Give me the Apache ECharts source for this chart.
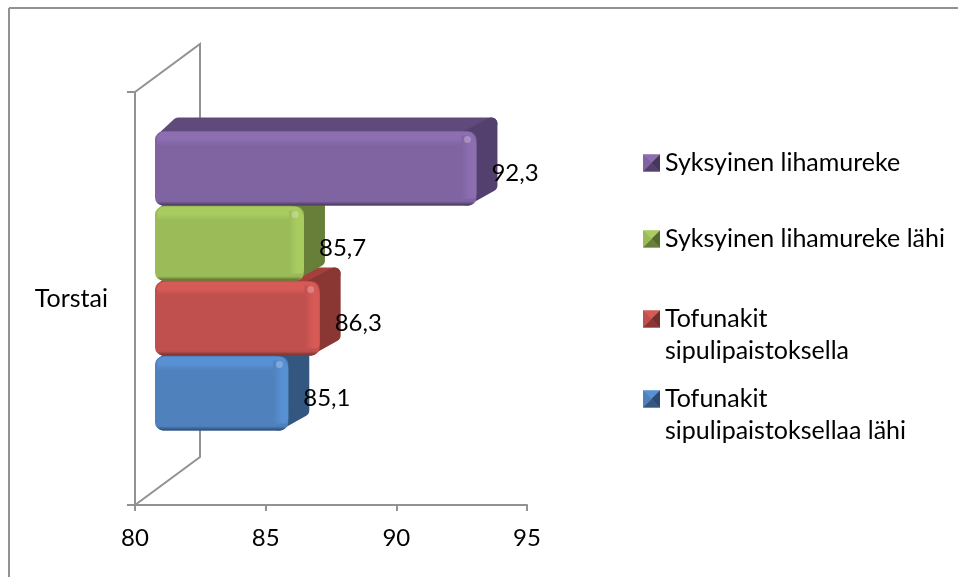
<!DOCTYPE html>
<html>
<head>
<meta charset="utf-8">
<title>Torstai</title>
<script src="https://cdn.jsdelivr.net/npm/echarts@6/dist/echarts.min.js"></script>
<style>
	html, body { margin: 0; padding: 0; background: #fff; }
	#chart { width: 958px; height: 577px; }
</style>
</head>
<body>
<div id="chart"></div>
<script>
// bottom bar first, same order as the excel sheet
const categories = ["Torstai"];
const seriesNames = [
	"Tofunakit sipulipaistoksellaa lähi",
	"Tofunakit sipulipaistoksella",
	"Syksyinen lihamureke lähi",
	"Syksyinen lihamureke",
];
const blueValues = [85.1];
const redValues = [86.3];
const greenValues = [85.7];
const purpleValues = [92.3];
const seriesValues = [blueValues, redValues, greenValues, purpleValues];

const FONT = "Lato";
const GRAY = "#929292";
const NUM_SIZE = 24;
const TEXT_SIZE = 25;

// front, top, side, highlight, shadow
const palette = [
	["#4F81BD", "#41699B", "#34577F", "#5890D4", "#2C4A70"],
	["#C0504D", "#A43F3D", "#8A3633", "#D65A56", "#72302D"],
	["#9BBB59", "#7E9A48", "#677F38", "#A9CC60", "#56692E"],
	["#8064A2", "#604A7B", "#54406F", "#8C6EB1", "#463659"],
];

// front plane of the bars sits a bit inside the 3d box
const wallDx = 65, wallDy = -48;
const frontDx = 20, frontDy = -17;
const depthDx = 21, depthDy = -14;

function renderWalls(params, api) {
	const a = api.coord([80, 0]);
	const h = api.size([0, 1])[1];
	const x = a[0], top = a[1] - h / 2, bot = a[1] + h / 2;
	return {
		type: "polyline",
		shape: { points: [[x, top], [x + wallDx, top + wallDy], [x + wallDx, bot + wallDy], [x, bot]] },
		style: { stroke: GRAY, lineWidth: 2, fill: null },
		silent: true,
	};
}

function renderBar(params, api) {
	const i = params.seriesIndex - 1;
	const base = api.coord([80, 0]);
	const end = api.coord([api.value(0), 0]);
	const band = api.size([0, 1])[1];
	const barH = band * 0.1815;
	const colors = palette[i];
	const x0 = base[0] + frontDx;
	const x1 = end[0] + frontDx;
	const y0 = base[1] + frontDy + barH * (1 - i);
	const y1 = y0 + barH - 1;
	const w = x1 - x0, hh = y1 - y0;
	const ins = 6;
	const face = (pts, fill) => ({
		type: "polygon",
		shape: { points: pts },
		style: { fill, stroke: fill, lineWidth: ins * 2, lineJoin: "round" },
	});
	return {
		type: "group",
		children: [
			// top
			face([
				[x0 + ins + 2, y0 + ins],
				[x0 + depthDx + ins - 4, y0 + depthDy + ins],
				[x1 + depthDx - ins, y0 + depthDy + ins],
				[x1 - ins, y0 + ins + 4],
			], colors[1]),
			// side
			face([
				[x1 - ins - 6, y0 + ins],
				[x1 + depthDx - ins, y0 + depthDy + ins],
				[x1 + depthDx - ins, y1 + depthDy - ins],
				[x1 - ins - 4, y1 - ins],
			], colors[2]),
			// front
			{
				type: "rect",
				shape: { x: x0, y: y0, width: w, height: hh, r: 8 },
				style: { fill: colors[0] },
			},
			// top bevel
			{
				type: "rect",
				shape: { x: x0 + 2, y: y0, width: w - 4, height: 14, r: [8, 8, 0, 0] },
				style: {
					fill: { type: "linear", x: 0, y: 0, x2: 0, y2: 1, colorStops: [
						{ offset: 0, color: colors[3] }, { offset: 0.55, color: colors[3] }, { offset: 1, color: colors[0] },
					] },
				},
			},
			// right bevel
			{
				type: "rect",
				shape: { x: x1 - 15, y: y0 + 4, width: 15, height: hh - 8, r: [0, 8, 8, 0] },
				style: {
					fill: { type: "linear", x: 0, y: 0, x2: 1, y2: 0, colorStops: [
						{ offset: 0, color: colors[0] }, { offset: 0.55, color: colors[3] }, { offset: 1, color: colors[3] },
					] },
				},
			},
			// bottom shadow
			{
				type: "rect",
				shape: { x: x0 + 2, y: y1 - 7, width: w - 4, height: 7, r: [0, 0, 6, 6] },
				style: {
					fill: { type: "linear", x: 0, y: 0, x2: 0, y2: 1, colorStops: [
						{ offset: 0, color: colors[0] }, { offset: 0.4, color: colors[0] }, { offset: 1, color: colors[4] },
					] },
				},
			},
			// little shine in the corner
			{
				type: "circle",
				shape: { cx: x1 - 9, cy: y0 + 8, r: 3.5 },
				style: { fill: "rgba(255,255,255,0.25)" },
			},
			{
				type: "text",
				z2: 20,
				style: {
					x: x1 + 15,
					y: (y0 + y1) / 2 + 5,
					text: api.value(0).toFixed(1).replace(".", ","),
					font: NUM_SIZE + "px " + FONT,
					fill: "#000",
					align: "left",
					verticalAlign: "middle",
				},
			},
		],
	};
}

// legend sits top to bottom in reverse series order
const legendRows = [
	{ series: 3, first: "Syksyinen lihamureke", second: "", y: 163 },
	{ series: 2, first: "Syksyinen lihamureke lähi", second: "", y: 239 },
	{ series: 1, first: "Tofunakit", second: "sipulipaistoksella", y: 319 },
	{ series: 0, first: "Tofunakit", second: "sipulipaistoksellaa lähi", y: 399 },
];
const legendX = 643, keySize = 17;

const legendGraphics = [
	{ type: "line", shape: { x1: 9, y1: 8, x2: 958, y2: 8 }, style: { stroke: GRAY, lineWidth: 2 } },
	{ type: "line", shape: { x1: 9, y1: 8, x2: 9, y2: 577 }, style: { stroke: GRAY, lineWidth: 2 } },
];
legendRows.forEach((row) => {
	const c = palette[row.series];
	const l = legendX, r = legendX + keySize, t = row.y - keySize / 2, b = row.y + keySize / 2;
	const mx = (l + r) / 2, my = (t + b) / 2;
	// pyramid look of the excel legend key
	legendGraphics.push(
		{ type: "polygon", z: 10, shape: { points: [[l, t], [r, t], [mx, my]] }, style: { fill: c[3] } },
		{ type: "polygon", z: 10, shape: { points: [[r, t], [r, b], [mx, my]] }, style: { fill: c[4] } },
		{ type: "polygon", z: 10, shape: { points: [[l, b], [r, b], [mx, my]] }, style: { fill: c[2] } },
		{ type: "polygon", z: 10, shape: { points: [[l, t], [l, b], [mx, my]] }, style: { fill: c[0] } }
	);
	if (row.second) {
		legendGraphics.push({
			type: "text",
			style: {
				x: legendX + keySize + 5,
				y: row.y + 32,
				text: row.second,
				font: TEXT_SIZE + "px " + FONT,
				fill: "#000",
				verticalAlign: "middle",
			},
		});
	}
});

const chart = echarts.init(document.getElementById("chart"), null, { renderer: "canvas" });

chart.setOption({
	animation: false,
	backgroundColor: "#fff",
	textStyle: { fontFamily: FONT },
	grid: { left: 135, right: 431, top: 92, bottom: 72 },
	xAxis: {
		type: "value",
		min: 80,
		max: 95,
		interval: 5,
		splitLine: { show: false },
		axisLine: { show: true, onZero: false, lineStyle: { color: GRAY, width: 2 } },
		axisTick: { show: true, length: 6, lineStyle: { color: GRAY, width: 2 } },
		axisLabel: { color: "#000", fontSize: NUM_SIZE, fontFamily: FONT, margin: 21 },
	},
	yAxis: {
		type: "category",
		data: categories,
		axisLine: { show: true, lineStyle: { color: GRAY, width: 2 } },
		axisTick: { show: true, length: 8, lineStyle: { color: GRAY, width: 2 } },
		axisLabel: { color: "#000", fontSize: TEXT_SIZE, fontFamily: FONT, margin: 27, padding: [5, 0, 0, 0] },
	},
	legend: legendRows.map((row) => ({
		left: legendX,
		top: row.y - 15,
		orient: "vertical",
		selectedMode: false,
		icon: "rect",
		itemWidth: keySize,
		itemHeight: keySize,
		itemGap: 0,
		padding: 0,
		data: [seriesNames[row.series]],
		formatter: () => row.first,
		textStyle: { color: "#000", fontSize: TEXT_SIZE, fontFamily: FONT, lineHeight: 30, padding: [0, 0, 0, 0] },
	})),
	graphic: legendGraphics,
	series: [
		{
			type: "custom",
			name: "",
			silent: true,
			z: 1,
			renderItem: renderWalls,
			encode: { x: 0, y: 1 },
			data: [[80, 0]],
		},
	].concat(seriesNames.map((name, i) => ({
		type: "custom",
		name,
		z: 2 + i,
		itemStyle: { color: palette[i][0] },
		renderItem: renderBar,
		encode: { x: 0, y: 1 },
		data: seriesValues[i].map((v, k) => [v, k]),
	}))),
});
</script>
</body>
</html>
